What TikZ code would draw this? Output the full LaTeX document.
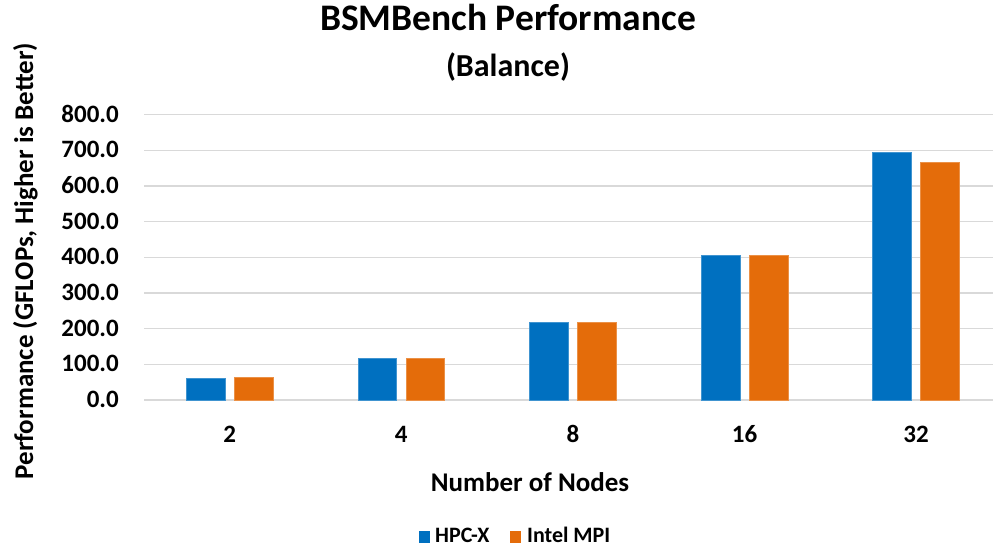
\documentclass[tikz,border=0pt]{standalone}
\usepackage{fontspec}
\setmainfont{Carlito}
\definecolor{hpcBlue}{HTML}{0070C0}
\definecolor{mpiOrange}{HTML}{E46C0A}
\definecolor{gridGray}{HTML}{D9D9D9}
\usepackage{tikz}

\begin{document}
\begin{tikzpicture}[x=1pt, y=1pt, inner sep=0pt,
    every node/.style={font=\bfseries\fontsize{25}{28}\selectfont},
    bigtitle/.style={font=\bfseries\fontsize{37.5}{40}\selectfont},
    axistitle/.style={font=\bfseries\fontsize{27}{30}\selectfont},
    keytext/.style={anchor=base west, font=\bfseries\fontsize{22}{24}\selectfont}]
  \useasboundingbox (0,0) rectangle (993,548);
  \foreach \v in {0,100,...,800} {
    \draw[gridGray, line width=1.3pt] (144,{148+0.3566*\v}) -- (993,{148+0.3566*\v});
    \node (tick\v) [anchor=base east] at (119,{140.4+0.3566*\v}) {\v.0};
  }
  \foreach \i/\n/\a/\b in {0/2/61/64.5, 1/4/117/117, 2/8/218/218, 3/16/404.6/404.6, 4/32/696/666} {
    \filldraw[fill=hpcBlue, draw=hpcBlue!75!white, line width=0.6pt]
      ({186.3+171.6*\i},148) rectangle ++(38.7,{0.3566*\a});
    \filldraw[fill=mpiOrange, draw=mpiOrange!75!white, line width=0.6pt]
      ({234.3+171.6*\i},148) rectangle ++(38.7,{0.3566*\b});
    \node (cat\n) [anchor=base] at ({229.7+171.6*\i},105) {\n};
  }
  \node (title) [bigtitle, anchor=base] at (508,517) {BSMBench Performance};
  \node (subtitle) [font=\bfseries\fontsize{32}{34}\selectfont, anchor=base] at (508,471) {(Balance)};
  \node (xtitle) [axistitle, anchor=base] at (530,56) {Number of Nodes};
  \node (ytitle) [axistitle, anchor=base, rotate=90] at (33,287) {Performance (GFLOPs, Higher is Better)};
  \fill[hpcBlue] (419,5) rectangle (430,17);
  \node (keyHpc) [keytext] at (435,5) {HPC-X};
  \fill[mpiOrange] (510,5) rectangle (521,17);
  \node (keyMpi) [keytext] at (527,5) {Intel MPI};
\end{tikzpicture}
\end{document}
